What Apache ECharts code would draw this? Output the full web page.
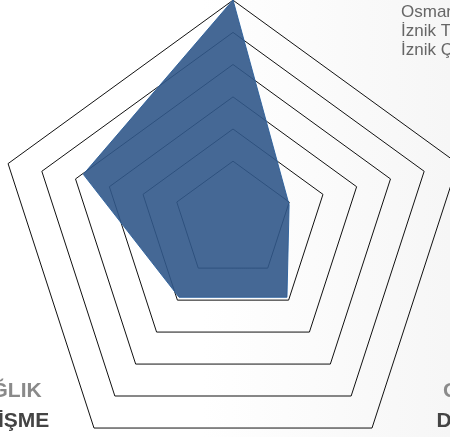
<!DOCTYPE html>
<html><head><meta charset="utf-8">
<script src="https://cdn.jsdelivr.net/npm/echarts@6/dist/echarts.min.js"></script>
<style>html,body{margin:0;padding:0;background:#fff}#c{width:450px;height:437px}</style>
</head><body><div id="c"></div>
<script>
// indicators in ECharts order: top, upper-left, lower-left, lower-right, upper-right
const indicatorNames = ['EĞİTİM', 'KÜLTÜR', 'SAĞLIK\nGELİŞME', 'GELİR\nDÜZEYİ', 'ÇEVRE'];
const seriesNames = ['Osmangazi', 'İznik Tarım', 'İznik Çini'];
const seriesValues = [6, 4, 2, 2, 1];
const levelMin = 1, levelMax = 6;

const chart = echarts.init(document.getElementById('c'), null, {renderer: 'canvas'});
const cx = 233;
// ring outlines (each ring drawn by its own radar component)
const rings = [
  {r: 236.5, cy: 236.7}, {r: 201, cy: 233.4}, {r: 165.6, cy: 230.1},
  {r: 130, cy: 226.9}, {r: 94.6, cy: 223.6}, {r: 59.1, cy: 220.3}
];
const ringRadars = rings.map(g => ({
  center: [cx, g.cy], radius: g.r, startAngle: 90, shape: 'polygon', splitNumber: 1,
  indicator: indicatorNames.map(n => ({name: n, min: 0, max: 1})),
  axisName: {show: false}, axisLine: {show: false}, axisTick: {show: false},
  axisLabel: {show: false}, splitArea: {show: false},
  splitLine: {lineStyle: {color: '#111', width: 1}}
}));
const dataRadar = {
  center: [cx, 223], radius: [59, 223], startAngle: 90, shape: 'polygon', splitNumber: 5,
  indicator: indicatorNames.map(n => ({name: n, min: levelMin, max: levelMax})),
  axisName: {show: false}, axisLine: {show: false}, axisTick: {show: false},
  axisLabel: {show: false}, splitArea: {show: false}, splitLine: {show: false}
};
const lbl = (txt, x, y) => {
  const [a, b] = txt.split('\n');
  return {type: 'text', x: x, y: y, style: {
    text: '{a|' + a + '}\n{b|' + b + '}', align: 'center', verticalAlign: 'top',
    rich: {
      a: {font: 'bold 21px "Liberation Sans", Arial', fill: '#8a8a8a', align: 'center', lineHeight: 30},
      b: {font: 'bold 21px "Liberation Sans", Arial', fill: '#444', align: 'center', lineHeight: 30}
    }
  }};
};
chart.setOption({
  backgroundColor: {
    type: 'linear', x: 0, y: 0, x2: 1, y2: 0,
    colorStops: [{offset: 0, color: '#ffffff'}, {offset: 0.45, color: '#ffffff'}, {offset: 1, color: '#f6f6f6'}]
  },
  animation: false,
  radar: ringRadars.concat([dataRadar]),
  series: [{
    type: 'radar', radarIndex: rings.length, name: seriesNames[0], symbol: 'none', z: 2,
    lineStyle: {color: '#3b73b0', width: 1},
    areaStyle: {color: '#31588a', opacity: 0.9},
    data: [{value: seriesValues, name: seriesNames[0]}]
  }],
  graphic: [
    lbl(indicatorNames[2], 2, 376),
    lbl(indicatorNames[3], 475, 376),
  ].concat(seriesNames.map((n, i) => ({
    type: 'text', x: 401, y: 12.5 + i * 19,
    style: {text: n, font: '17px "Liberation Sans", Arial', fill: '#666', verticalAlign: 'middle'}
  })))
});
</script></body></html>
